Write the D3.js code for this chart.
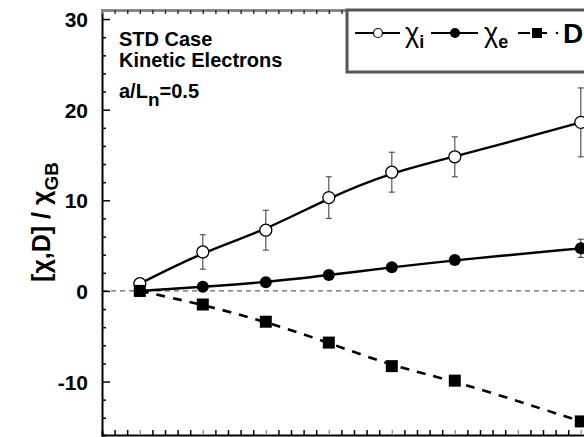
<!DOCTYPE html>
<html>
<head>
<meta charset="utf-8">
<script src="https://cdn.jsdelivr.net/npm/d3@7"></script>
<style>
  body { margin: 0; background: #fff; }
  svg { display: block; }
</style>
</head>
<body>
<div id="chart"></div>
<script>
// data
const xVals = [0, 1, 2, 3, 4, 5, 7];
const chiI = [0.8, 4.3, 6.7, 10.3, 13.1, 14.8, 18.6];
const chiIErr = [0, 1.9, 2.2, 2.3, 2.2, 2.2, 3.8];
const chiE = [0, 0.45, 0.95, 1.75, 2.6, 3.4, 4.7];
const chiEErr = [0, 0, 0, 0, 0, 0, 1.0];
const dVals = [0, -1.5, -3.4, -5.7, -8.3, -9.9, -14.4];
const yTickLabels = [-10, 0, 10, 20, 30];
const notes = ['STD Case', 'Kinetic Electrons'];

// layout
const width = 584;
const height = 437;
const fontFamily = '"Liberation Sans", Arial, sans-serif';
const xScale = d3.scaleLinear().domain([-0.6, 8]).range([102, 102 + 8.6 * 63]);
const yScale = d3.scaleLinear().domain([-15.9, 31]).range([435, 10]);

const svg = d3.select('#chart')
    .append('svg')
        .attr('width', width)
        .attr('height', height)
        .style('font-family', fontFamily);

// zero reference line
svg.append('line')
    .attr('x1', xScale(-0.6))
    .attr('x2', width)
    .attr('y1', yScale(0))
    .attr('y2', yScale(0))
    .attr('stroke', '#666')
    .attr('stroke-width', 1.2)
    .attr('stroke-dasharray', '5,4');

// left axis with inward ticks
const leftAxis = svg.append('g')
    .attr('transform', `translate(${xScale(-0.6)},0)`)
    .call(d3.axisRight(yScale).tickValues(d3.range(-14, 31, 2)).tickSize(4).tickFormat(''));
leftAxis.select('.domain').attr('stroke-width', 2);
leftAxis.selectAll('.tick line')
    .attr('x2', d => d % 10 === 0 ? 8 : 4)
    .attr('stroke-width', 1.5);

svg.append('g')
    .selectAll('text')
    .data(yTickLabels)
    .enter()
    .append('text')
        .attr('x', 88)
        .attr('y', d => yScale(d) + 8)
        .attr('text-anchor', 'end')
        .style('font-size', '21px')
        .style('font-weight', 'bold')
        .text(d => d);

// bottom axis
const bottomAxis = svg.append('g')
    .attr('transform', `translate(0,${yScale(-15.9)})`)
    .call(d3.axisTop(xScale).tickValues(d3.range(-0.4, 8, 0.2)).tickSize(5).tickFormat(''));
bottomAxis.select('.domain').attr('stroke-width', 2);
bottomAxis.selectAll('.tick line')
    .attr('stroke-width', 1.5)
    .attr('stroke', d => Math.abs(d - Math.round(d)) < 0.01 ? '#999' : '#000');

// top axis (gray hatched)
const topAxis = svg.append('g')
    .attr('transform', `translate(0,${yScale(31)})`)
    .call(d3.axisBottom(xScale).tickValues(d3.range(-0.4, 8, 0.2)).tickSize(4).tickFormat(''));
topAxis.select('.domain').attr('stroke', '#888').attr('stroke-width', 3);
topAxis.selectAll('.tick line').attr('stroke', '#333').attr('stroke-width', 1.5);

// lines (smooth fits)
const pts = (vals) => xVals.map((x, i) => [x, vals[i]]);
const lineGen = d3.line()
    .x(d => xScale(d[0]))
    .y(d => yScale(d[1]))
    .curve(d3.curveBasis);

svg.append('path')
    .attr('d', lineGen(pts(chiI)))
    .attr('fill', 'none')
    .attr('stroke', '#000')
    .attr('stroke-width', 2.4);

svg.append('path')
    .attr('d', lineGen(pts(chiE)))
    .attr('fill', 'none')
    .attr('stroke', '#000')
    .attr('stroke-width', 2.4);

svg.append('path')
    .attr('d', lineGen(pts(dVals)))
    .attr('fill', 'none')
    .attr('stroke', '#000')
    .attr('stroke-width', 2.6)
    .attr('stroke-dasharray', '9,8');

// error bars
const drawErr = (vals, errs) => {
    const g = svg.append('g');
    xVals.forEach((x, i) => {
        if (errs[i] <= 0) return;
        const cx = xScale(x);
        const y1 = yScale(vals[i] + errs[i]);
        const y2 = yScale(vals[i] - errs[i]);
        g.append('line').attr('x1', cx).attr('x2', cx).attr('y1', y1).attr('y2', y2)
            .attr('stroke', '#555').attr('stroke-width', 1.2);
        [y1, y2].forEach(y => {
            g.append('line').attr('x1', cx - 3).attr('x2', cx + 3).attr('y1', y).attr('y2', y)
                .attr('stroke', '#555').attr('stroke-width', 1.2);
        });
    });
};
drawErr(chiI, chiIErr);
drawErr(chiE, chiEErr);

// markers
svg.append('g')
    .selectAll('circle')
    .data(pts(chiI))
    .enter()
    .append('circle')
        .attr('cx', d => xScale(d[0]))
        .attr('cy', d => yScale(d[1]))
        .attr('r', 6)
        .attr('fill', '#fff')
        .attr('stroke', '#000')
        .attr('stroke-width', 1.3);

svg.append('g')
    .selectAll('circle')
    .data(pts(chiE))
    .enter()
    .append('circle')
        .attr('cx', d => xScale(d[0]))
        .attr('cy', d => yScale(d[1]))
        .attr('r', 6)
        .attr('fill', '#000');

svg.append('g')
    .selectAll('rect')
    .data(pts(dVals))
    .enter()
    .append('rect')
        .attr('x', d => xScale(d[0]) - 6)
        .attr('y', d => yScale(d[1]) - 6)
        .attr('width', 12)
        .attr('height', 12)
        .attr('fill', '#000');

// annotation text
svg.append('g')
    .selectAll('text')
    .data(notes)
    .enter()
    .append('text')
        .attr('x', 119)
        .attr('y', (d, i) => 46 + i * 21)
        .style('font-size', '20px')
        .style('font-weight', 'bold')
        .text(d => d);

const aText = svg.append('text')
    .attr('x', 119)
    .attr('y', 98)
    .style('font-size', '20px')
    .style('font-weight', 'bold');
aText.append('tspan').text('a/L');
aText.append('tspan').attr('dy', 8).style('font-size', '19px').text('n');
aText.append('tspan').attr('dy', -8).text('=0.5');

// y axis label
const yLabel = svg.append('text')
    .attr('transform', 'translate(50,222) rotate(-90)')
    .attr('text-anchor', 'middle')
    .style('font-size', '25px')
    .style('font-weight', 'bold');
yLabel.append('tspan').text('[χ,D] / χ');
yLabel.append('tspan').attr('dy', 8).style('font-size', '19px').text('GB');

// legend box
svg.append('rect')
    .attr('x', 347)
    .attr('y', 10)
    .attr('width', 300)
    .attr('height', 62)
    .attr('fill', '#fff')
    .attr('stroke', '#555')
    .attr('stroke-width', 3);

const legY = 33;
const legend = svg.append('g');
legend.append('line').attr('x1', 355).attr('x2', 400).attr('y1', legY).attr('y2', legY)
    .attr('stroke', '#000').attr('stroke-width', 2);
legend.append('circle').attr('cx', 378).attr('cy', legY).attr('r', 4.5)
    .attr('fill', '#fff').attr('stroke', '#000').attr('stroke-width', 1.2);
const t1 = legend.append('text').attr('x', 405).attr('y', legY + 9).style('font-size', '27px');
t1.append('tspan').text('χ');
t1.append('tspan').attr('dy', 6).style('font-size', '18px').style('font-weight', 'bold').text('i');

legend.append('line').attr('x1', 431).attr('x2', 478).attr('y1', legY).attr('y2', legY)
    .attr('stroke', '#000').attr('stroke-width', 2);
legend.append('circle').attr('cx', 455).attr('cy', legY).attr('r', 5)
    .attr('fill', '#000');
const t2 = legend.append('text').attr('x', 484).attr('y', legY + 9).style('font-size', '27px');
t2.append('tspan').text('χ');
t2.append('tspan').attr('dy', 6).style('font-size', '18px').style('font-weight', 'bold').text('e');

legend.append('line').attr('x1', 518).attr('x2', 530).attr('y1', legY).attr('y2', legY)
    .attr('stroke', '#000').attr('stroke-width', 2);
legend.append('rect').attr('x', 532).attr('y', legY - 5).attr('width', 10).attr('height', 10)
    .attr('fill', '#000');
legend.append('line').attr('x1', 542).attr('x2', 547).attr('y1', legY).attr('y2', legY)
    .attr('stroke', '#000').attr('stroke-width', 2);
legend.append('circle').attr('cx', 557).attr('cy', legY).attr('r', 1.3).attr('fill', '#000');
legend.append('text').attr('x', 563).attr('y', legY + 10)
    .style('font-size', '28px').style('font-weight', 'bold').text('D');
</script>
</body>
</html>
